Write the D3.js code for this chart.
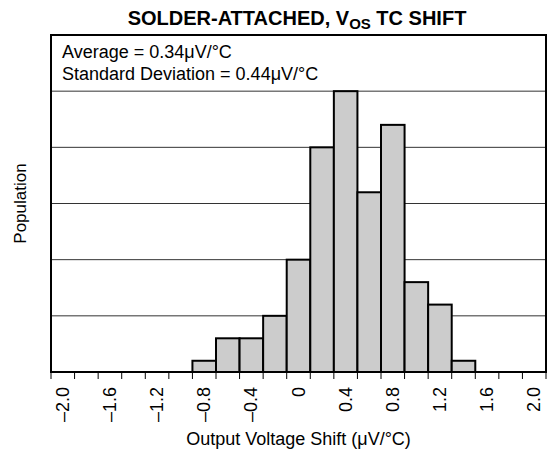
<!DOCTYPE html>
<html>
<head>
<meta charset="utf-8">
<script src="https://cdn.jsdelivr.net/npm/d3@7"></script>
<style>
  body { margin: 0; background: #fff; }
  text { font-family: "Liberation Sans", Arial, sans-serif; fill: #000; }
</style>
</head>
<body>
<svg id="chart" width="547" height="456"></svg>
<script>
// bin centers (uV/degC) and counts
var binCenters = [-0.8, -0.6, -0.4, -0.2, 0, 0.2, 0.4, 0.6, 0.8, 1.0, 1.2, 1.4];
var counts = [1, 3, 3, 5, 10, 20, 25, 16, 22, 8, 6, 1];
var tickLabels = ["\u20132.0", "\u20131.6", "\u20131.2", "\u20130.8", "\u20130.4", "0", "0.4", "0.8", "1.2", "1.6", "2.0"];
var tickValues = [-2.0, -1.6, -1.2, -0.8, -0.4, 0, 0.4, 0.8, 1.2, 1.6, 2.0];
var binWidth = 0.2;

var margin = {top: 35, right: 1, bottom: 84, left: 51};
var width = 547 - margin.left - margin.right;
var height = 456 - margin.top - margin.bottom;

var svg = d3.select("#chart");
var g = svg.append("g")
    .attr("transform", "translate(" + margin.left + "," + margin.top + ")");

var x = d3.scaleLinear()
    .domain([-2.1, 2.1])
    .range([0, width]);
var y = d3.scaleLinear()
    .domain([0, 30])
    .range([height, 0]);

// gridlines
g.selectAll("line.grid")
    .data(d3.range(5, 31, 5))
  .enter().append("line")
    .attr("class", "grid")
    .attr("x1", 0)
    .attr("x2", width)
    .attr("y1", function(d) { return y(d); })
    .attr("y2", function(d) { return y(d); })
    .style("stroke", "#333")
    .style("stroke-width", 1);

// bars
g.selectAll("rect.bar")
    .data(binCenters)
  .enter().append("rect")
    .attr("class", "bar")
    .attr("x", function(d) { return x(d - binWidth / 2); })
    .attr("width", x(binWidth) - x(0))
    .attr("y", function(d, i) { return y(counts[i]); })
    .attr("height", function(d, i) { return height - y(counts[i]); })
    .style("fill", "#cccccc")
    .style("stroke", "#000")
    .style("stroke-width", 2);

// frame
g.append("rect")
    .attr("x", 0)
    .attr("y", 0)
    .attr("width", width)
    .attr("height", height)
    .style("fill", "none")
    .style("stroke", "#000")
    .style("stroke-width", 2);

// tick marks at bin edges
var edgeTicks = d3.range(-2.1, 2.11, 0.2);
g.selectAll("line.tick")
    .data(edgeTicks)
  .enter().append("line")
    .attr("class", "tick")
    .attr("x1", function(d) { return x(d); })
    .attr("x2", function(d) { return x(d); })
    .attr("y1", height)
    .attr("y2", height + 7)
    .style("stroke", "#000")
    .style("stroke-width", 1);

// tick labels at bin centres
g.selectAll("text.tl")
    .data(tickValues)
  .enter().append("text")
    .attr("class", "tl")
    .attr("transform", function(d) { return "translate(" + (x(d) + 6) + "," + (height + 15) + ") rotate(-90)"; })
    .attr("text-anchor", "end")
    .style("font-size", "18px")
    .text(function(d, i) { return tickLabels[i]; });

// stats text
g.append("text")
    .attr("x", 11)
    .attr("y", 23)
    .style("font-size", "18px")
    .text("Average = 0.34\u03bcV/\u00b0C");
g.append("text")
    .attr("x", 11)
    .attr("y", 45)
    .style("font-size", "18px")
    .text("Standard Deviation = 0.44\u03bcV/\u00b0C");

// title
var title = svg.append("text")
    .attr("x", 297)
    .attr("y", 25)
    .attr("text-anchor", "middle")
    .style("font-size", "20px")
    .style("font-weight", "bold");
title.append("tspan").text("SOLDER-ATTACHED, V");
title.append("tspan").attr("dy", 4).style("font-size", "15px").text("OS");
title.append("tspan").attr("dy", -4).text(" TC SHIFT");

// axis titles
svg.append("text")
    .attr("x", margin.left + x(0))
    .attr("y", 445)
    .attr("text-anchor", "middle")
    .style("font-size", "18px")
    .text("Output Voltage Shift (\u03bcV/\u00b0C)");
svg.append("text")
    .attr("transform", "translate(26," + (margin.top + height / 2) + ") rotate(-90)")
    .attr("text-anchor", "middle")
    .style("font-size", "17px")
    .text("Population");
</script>
</body>
</html>
